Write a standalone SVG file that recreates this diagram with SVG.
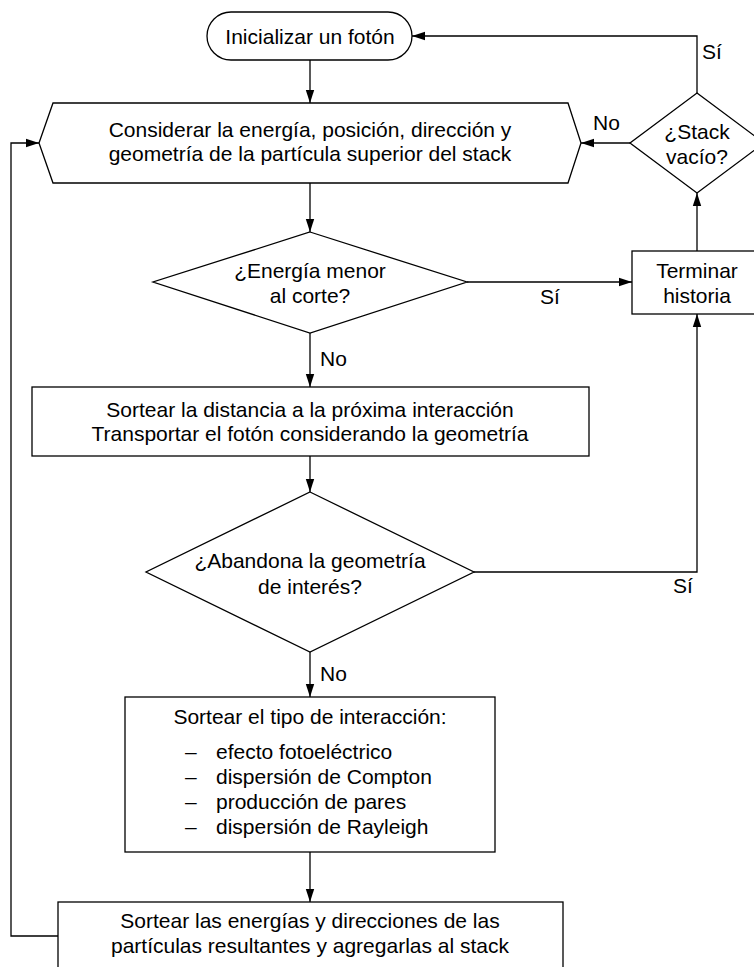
<svg xmlns="http://www.w3.org/2000/svg" width="754" height="967" viewBox="0 0 754 967">
<style>
  .s{fill:#fff;stroke:#000;stroke-width:1.3}
  .c{fill:none;stroke:#000;stroke-width:1.3}
  text{font-family:"Liberation Sans",Arial,sans-serif;font-size:21px;fill:#000}
  .m{text-anchor:middle}
</style>
<defs>
  <marker id="ah" markerWidth="14" markerHeight="10" refX="13" refY="5" orient="auto" markerUnits="userSpaceOnUse">
    <path d="M0,0.8 L13,5 L0,9.2 Z" fill="#000"/>
  </marker>
</defs>
<rect width="754" height="967" fill="#fff"/>
<g id="connectors">
  <path class="c" d="M310,60 V103" marker-end="url(#ah)"/>
  <path class="c" d="M310,183 V232" marker-end="url(#ah)"/>
  <path class="c" d="M310,333 V387" marker-end="url(#ah)"/>
  <path class="c" d="M310,456 V492" marker-end="url(#ah)"/>
  <path class="c" d="M310,652 V697" marker-end="url(#ah)"/>
  <path class="c" d="M310,852 V902" marker-end="url(#ah)"/>
  <path class="c" d="M467,282 H632" marker-end="url(#ah)"/>
  <path class="c" d="M474,572 H697 V314" marker-end="url(#ah)"/>
  <path class="c" d="M697,251 V193" marker-end="url(#ah)"/>
  <path class="c" d="M697,93 V36 H412" marker-end="url(#ah)"/>
  <path class="c" d="M630,143 H581" marker-end="url(#ah)"/>
  <path class="c" d="M58,936 H11 V143 H39" marker-end="url(#ah)"/>
  <text x="702" y="59">Sí</text>
  <text x="593" y="130">No</text>
  <text x="540" y="304">Sí</text>
  <text x="320" y="366">No</text>
  <text x="673" y="593">Sí</text>
  <text x="320" y="681">No</text>
</g>
<g id="start">
  <rect class="s" x="207" y="12" width="205" height="48" rx="24" ry="24"/>
  <text class="m" x="310" y="44">Inicializar un fotón</text>
</g>
<g id="consider">
  <path class="s" d="M53,103 H568 L581,143 L568,183 H53 L39,143 Z"/>
  <text class="m" x="310" y="137">Considerar la energía, posición, dirección y</text>
  <text class="m" x="310" y="161">geometría de la partícula superior del stack</text>
</g>
<g id="stackEmpty">
  <path class="s" d="M697,93 L764,143 L697,193 L630,143 Z"/>
  <text class="m" x="697" y="139">¿Stack</text>
  <text class="m" x="697" y="164">vacío?</text>
</g>
<g id="energyCut">
  <path class="s" d="M310,232 L467,282 L310,333 L153,282 Z"/>
  <text class="m" x="310" y="278">¿Energía menor</text>
  <text class="m" x="310" y="303">al corte?</text>
</g>
<g id="endHistory">
  <rect class="s" x="632" y="251" width="130" height="63"/>
  <text class="m" x="697" y="278">Terminar</text>
  <text class="m" x="697" y="303">historia</text>
</g>
<g id="sampleDistance">
  <rect class="s" x="32" y="387" width="557" height="69"/>
  <text class="m" x="310" y="417">Sortear la distancia a la próxima interacción</text>
  <text class="m" x="310" y="441">Transportar el fotón considerando la geometría</text>
</g>
<g id="leaveGeometry">
  <path class="s" d="M310,492 L474,572 L310,652 L146,572 Z"/>
  <text class="m" x="310" y="568">¿Abandona la geometría</text>
  <text class="m" x="310" y="594">de interés?</text>
</g>
<g id="sampleType">
  <rect class="s" x="125" y="697" width="370" height="155"/>
  <text class="m" x="310" y="724">Sortear el tipo de interacción:</text>
  <text x="185" y="759">–</text><text x="216" y="759">efecto fotoeléctrico</text>
  <text x="185" y="784">–</text><text x="216" y="784">dispersión de Compton</text>
  <text x="185" y="809">–</text><text x="216" y="809">producción de pares</text>
  <text x="185" y="834">–</text><text x="216" y="834">dispersión de Rayleigh</text>
</g>
<g id="sampleProducts">
  <rect class="s" x="58" y="902" width="505" height="90"/>
  <text class="m" x="310" y="928">Sortear las energías y direcciones de las</text>
  <text class="m" x="310" y="953">partículas resultantes y agregarlas al stack</text>
</g>
</svg>
